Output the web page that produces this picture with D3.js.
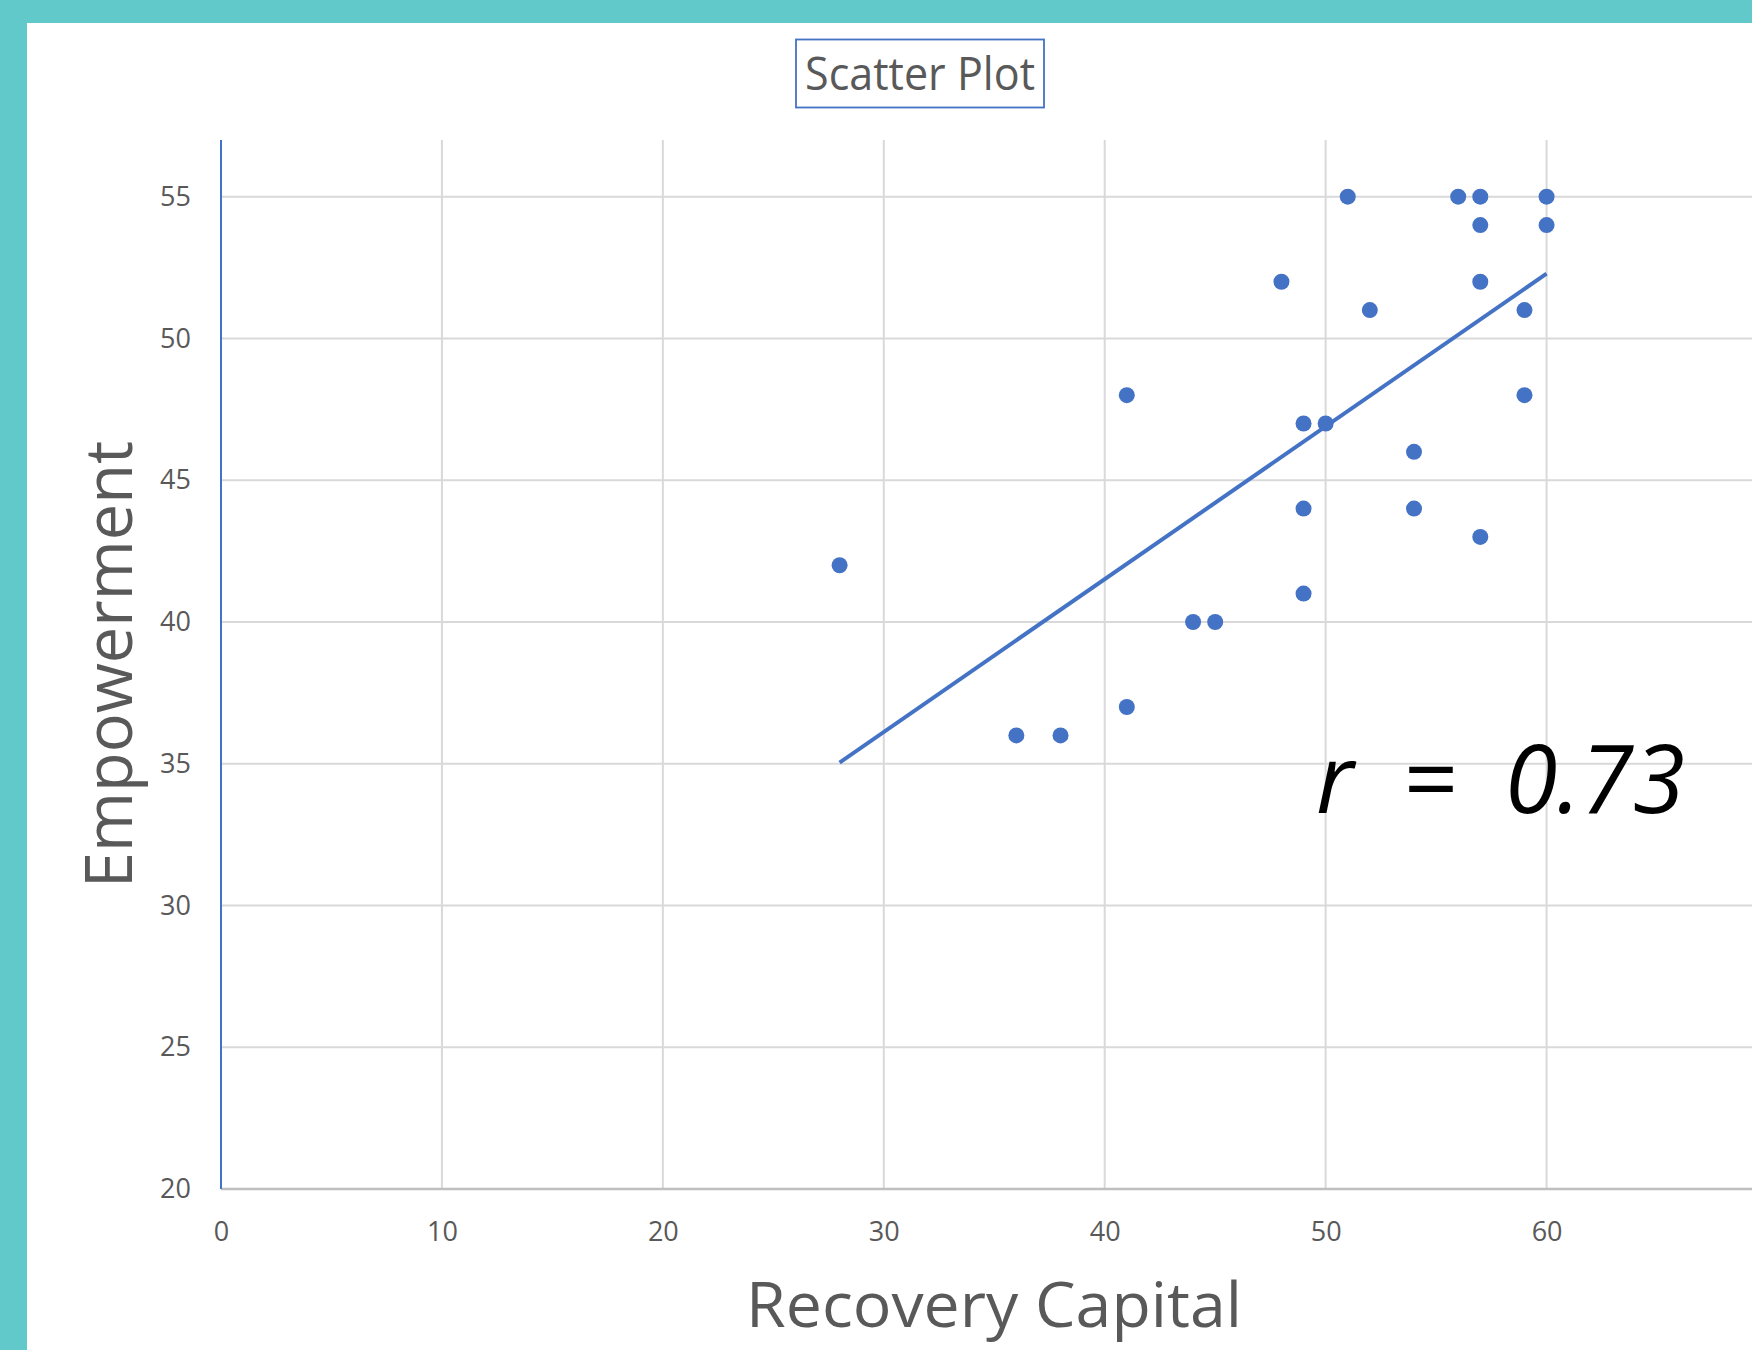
<!DOCTYPE html>
<html>
<head>
<meta charset="utf-8">
<script src="https://cdn.jsdelivr.net/npm/d3@7"></script>
<style>
  body { margin: 0; background: #fff; }
  text { font-family: "Open Sans", sans-serif; }
</style>
</head>
<body>
<script>
// dati
var recoveryCapital = [51, 56, 57, 60, 57, 60, 48, 57, 52, 59, 41, 59, 49, 50, 54, 49, 54, 57, 28, 49, 44, 45, 41, 36, 38];
var empowerment    = [55, 55, 55, 55, 54, 54, 52, 52, 51, 51, 48, 48, 47, 47, 46, 44, 44, 43, 42, 41, 40, 40, 37, 36, 36];
var xTicks = [0, 10, 20, 30, 40, 50, 60, 70];
var yTicks = [20, 25, 30, 35, 40, 45, 50, 55];
var rLabel = 'r  =  0.73';

var width = 1752;
var height = 1350;

var svg = d3.select('body').append('svg')
  .attr('width', width)
  .attr('height', height);

// bordo verde acqua
svg.append('rect').attr('x', 0).attr('y', 0).attr('width', width).attr('height', 23).style('fill', '#62C9CB');
svg.append('rect').attr('x', 0).attr('y', 0).attr('width', 27).attr('height', height).style('fill', '#62C9CB');

var xRange = d3.scaleLinear().domain([0, 70]).range([221, 1767.5]);
var yRange = d3.scaleLinear().domain([20, 57]).range([1189, 140]);

// griglia
var grid = svg.append('g');
grid.selectAll('line.v')
  .data(xTicks.slice(1))
  .enter()
  .append('line')
  .attr('x1', function (d) { return xRange(d) })
  .attr('x2', function (d) { return xRange(d) })
  .attr('y1', yRange(57))
  .attr('y2', yRange(20))
  .style('stroke', '#D9D9D9')
  .style('stroke-width', 2);

grid.selectAll('line.h')
  .data(yTicks.slice(1))
  .enter()
  .append('line')
  .attr('x1', xRange(0))
  .attr('x2', width)
  .attr('y1', function (d) { return yRange(d) })
  .attr('y2', function (d) { return yRange(d) })
  .style('stroke', '#D9D9D9')
  .style('stroke-width', 2);

// assi
var xAxis = svg.append('g')
  .attr('transform', 'translate(0,' + yRange(20) + ')')
  .call(d3.axisBottom(xRange).tickValues(xTicks.slice(0, 7)).tickSize(0).tickPadding(33));
xAxis.select('.domain').remove();
xAxis.append('line')
  .attr('x1', xRange(0)).attr('x2', width)
  .style('stroke', '#BFBFBF').style('stroke-width', 2.5);

var yAxis = svg.append('g')
  .attr('transform', 'translate(' + xRange(0) + ',0)')
  .call(d3.axisLeft(yRange).tickValues(yTicks).tickSize(0).tickPadding(30));
yAxis.select('.domain').remove();
yAxis.append('line')
  .attr('y1', yRange(57)).attr('y2', yRange(20))
  .style('stroke', '#4472C4').style('stroke-width', 2);

svg.selectAll('.tick text')
  .style('font-family', '"Open Sans", sans-serif')
  .style('font-size', '27px')
  .style('fill', '#595959');

// linea di tendenza (minimi quadrati)
var n = recoveryCapital.length;
var mx = d3.mean(recoveryCapital), my = d3.mean(empowerment);
var sxy = 0, sxx = 0;
for (let i = 0; i < n; i++) {
  sxy += (recoveryCapital[i] - mx) * (empowerment[i] - my);
  sxx += (recoveryCapital[i] - mx) * (recoveryCapital[i] - mx);
}
var slope = sxy / sxx;
var intercept = my - slope * mx;
var x0 = d3.min(recoveryCapital), x1 = d3.max(recoveryCapital);

svg.append('line')
  .attr('x1', xRange(x0)).attr('y1', yRange(intercept + slope * x0))
  .attr('x2', xRange(x1)).attr('y2', yRange(intercept + slope * x1))
  .style('stroke', '#4472C4')
  .style('stroke-width', 4);

// punti
svg.selectAll('circle.pt')
  .data(d3.range(n))
  .enter()
  .append('circle')
  .attr('class', 'pt')
  .attr('cx', function (i) { return xRange(recoveryCapital[i]) })
  .attr('cy', function (i) { return yRange(empowerment[i]) })
  .attr('r', 8)
  .style('fill', '#4472C4');

// titolo con riquadro
svg.append('rect')
  .attr('x', 796).attr('y', 39.5).attr('width', 248).attr('height', 68)
  .style('fill', 'none').style('stroke', '#4472C4').style('stroke-width', 1.8);
svg.append('text')
  .attr('x', 805).attr('y', 90)
  .attr('textLength', 230).attr('lengthAdjust', 'spacingAndGlyphs')
  .style('font-size', '45px').style('fill', '#595959')
  .text('Scatter Plot');

// titoli degli assi
svg.append('text')
  .attr('x', 746).attr('y', 1327)
  .attr('textLength', 496).attr('lengthAdjust', 'spacingAndGlyphs')
  .style('font-size', '63px').style('fill', '#595959')
  .text('Recovery Capital');

svg.append('text')
  .attr('transform', 'translate(131.5,888) rotate(-90)')
  .attr('textLength', 447).attr('lengthAdjust', 'spacingAndGlyphs')
  .style('font-size', '65px').style('fill', '#595959')
  .text('Empowerment');

// coefficiente r
svg.append('text')
  .attr('x', 1316).attr('y', 813)
  .attr('textLength', 369).attr('lengthAdjust', 'spacing')
  .style('font-size', '95px').style('font-style', 'italic').style('fill', '#000')
  .style('white-space', 'pre')
  .text(rLabel);
</script>
</body>
</html>
